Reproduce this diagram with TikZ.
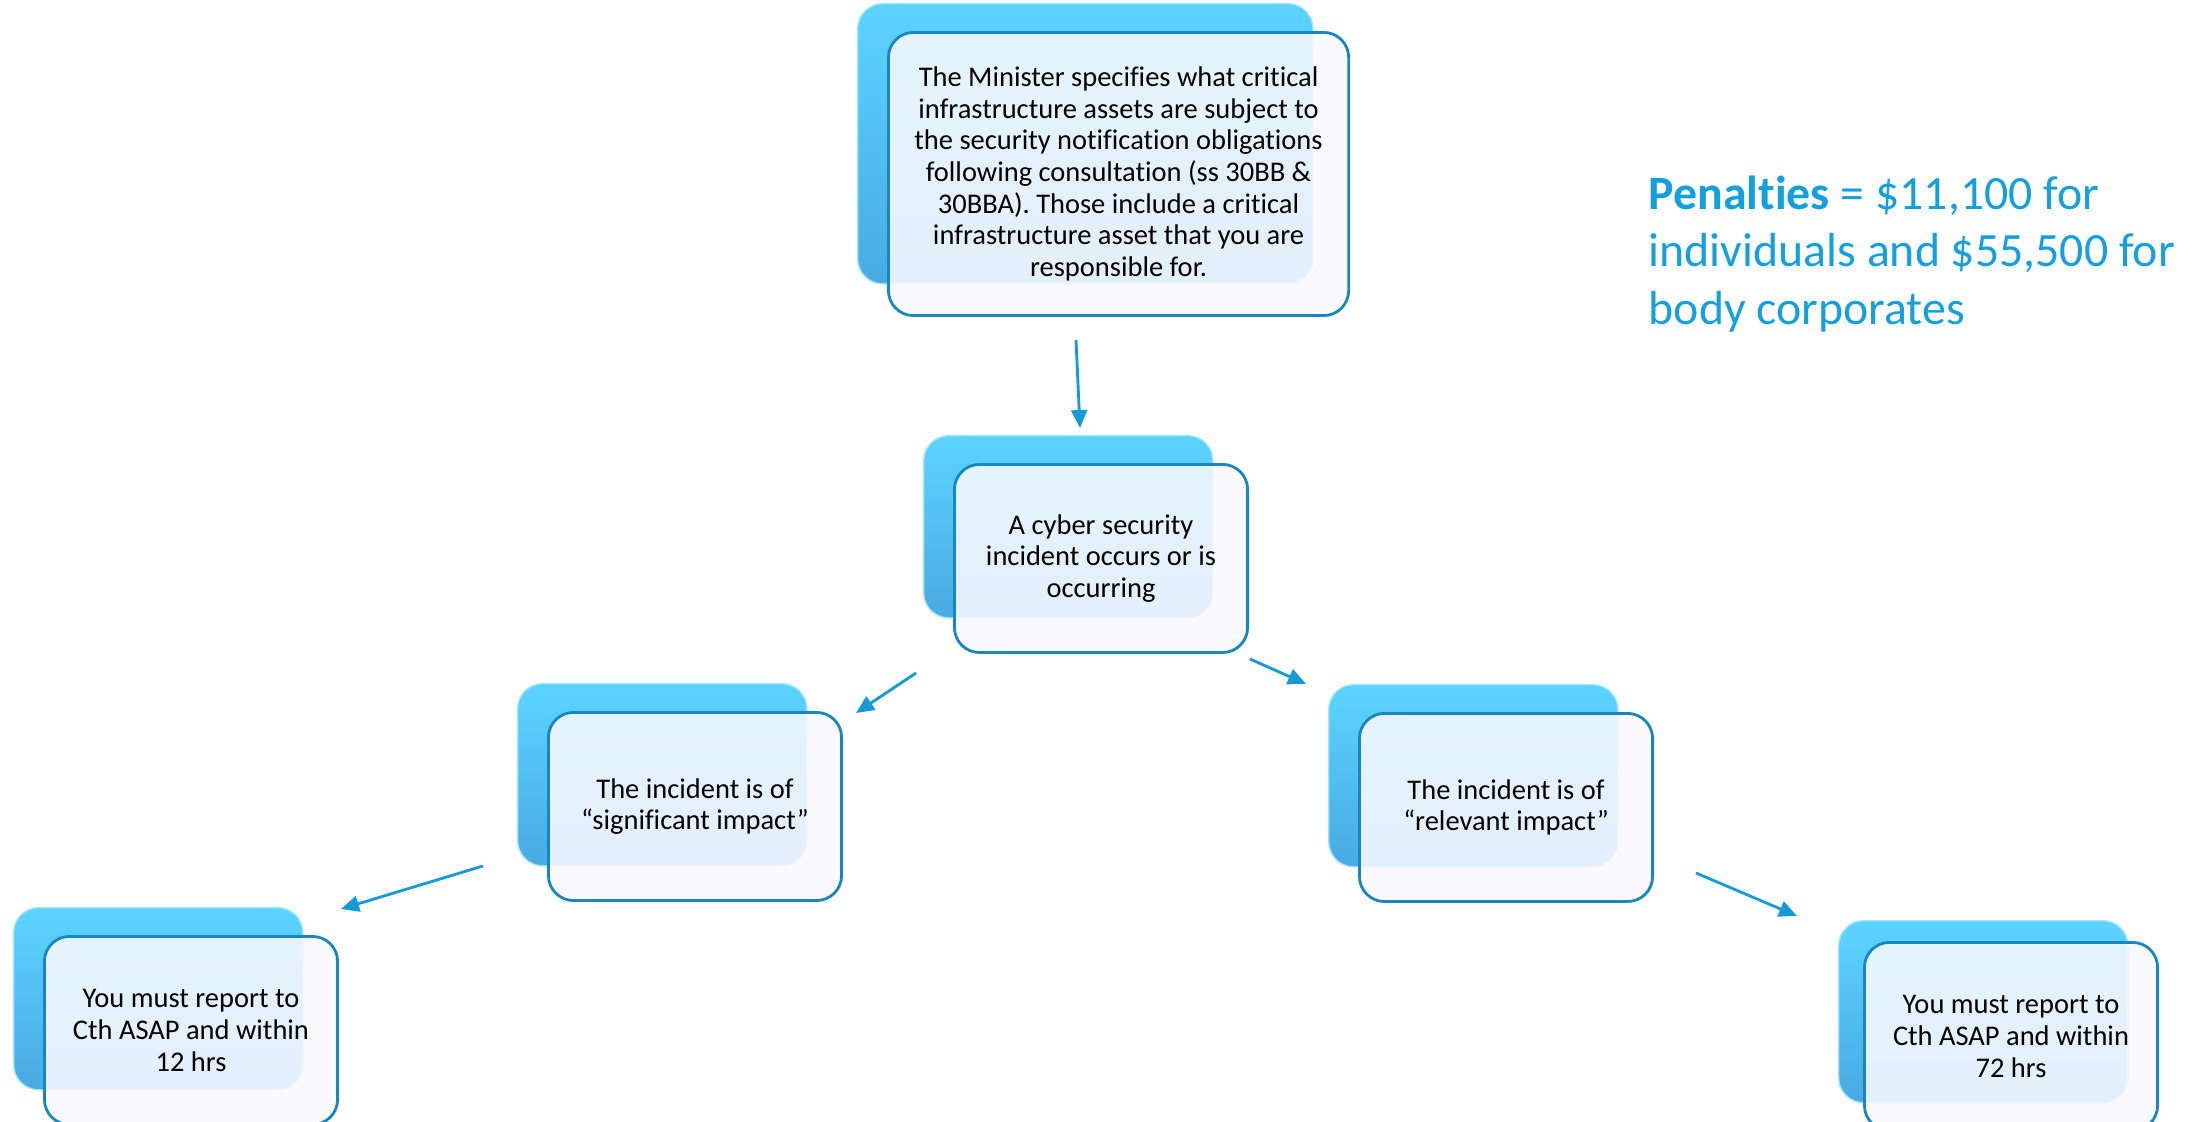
\documentclass[tikz,border=0pt]{standalone}
\usepackage{fontspec}
\setmainfont{Carlito}[Ligatures={NoCommon,NoContextual,NoRequired}, Contextuals={NoAlternate}]
\usetikzlibrary{positioning, arrows.meta}
\definecolor{arrowblue}{RGB}{20,155,214}
\definecolor{edgeblue}{RGB}{25,135,190}
\definecolor{backtop}{RGB}{92,212,255}
\definecolor{backbot}{RGB}{72,170,225}
\definecolor{frontfill}{RGB}{249,249,254}
\definecolor{penblue}{RGB}{20,160,220}

\begin{document}
\begin{tikzpicture}
		[
		x=0.01cm, y=-0.01cm,
		font=\fontsize{8.1}{9}\selectfont,
		back/.style ={rectangle, rounded corners=0.25cm, top color=backtop, bottom color=backbot, draw=backtop!60!white, line width=0.4pt, anchor=north west},
		front/.style ={rectangle, rounded corners=0.25cm, draw=edgeblue, line width=0.8pt, fill=frontfill, fill opacity=0.88, text opacity=1, align=center},
		small/.style ={minimum width=2.93cm, minimum height=1.88cm},
		smallback/.style ={minimum width=2.89cm, minimum height=1.82cm},
		arr/.style ={-{Triangle[length=0.18cm, width=0.16cm]}, draw=arrowblue, line width=0.8pt}
		]
		\useasboundingbox (0,0) rectangle (2203,1122);
		% back boxes
		\node (min0) [back, minimum width=4.55cm, minimum height=2.80cm] at (857,3) {};
		\node (inc0) [back, smallback] at (923,435) {};
		\node (sig0) [back, smallback] at (517,683) {};
		\node (rel0) [back, smallback] at (1328,684) {};
		\node (rep12b) [back, smallback] at (13,907) {};
		\node (rep72b) [back, smallback] at (1838,920) {};
		% front boxes
		\node[below right=0.28cm and 0.30cm of min0.north west] (min) [front, minimum width=4.60cm, minimum height=2.83cm] {The Minister specifies what critical\\ infrastructure assets are subject to\\ the security notification obligations\\ following consultation (ss 30BB \&\\ 30BBA). Those include a critical\\ infrastructure asset that you are\\ responsible for.};
		\node[below right=0.28cm and 0.30cm of inc0.north west] (inc) [front, small] {A cyber security\\ incident occurs or is\\ occurring};
		\node[below right=0.28cm and 0.30cm of sig0.north west] (sig) [front, small] {The incident is of\\ “significant impact”};
		\node[below right=0.28cm and 0.30cm of rel0.north west] (rel) [front, small] {The incident is of\\ “relevant impact”};
		\node[below right=0.28cm and 0.30cm of rep12b.north west] (rep12) [front, small] {You must report to\\ Cth ASAP and within\\ 12 hrs};
		\node[below right=0.21cm and 0.25cm of rep72b.north west] (rep72) [front, small] {You must report to\\ Cth ASAP and within\\ 72 hrs};
		% penalties
		\node[anchor=north west, align=left, inner sep=0pt, text=penblue, font=\fontsize{13.6}{16.4}\selectfont] (pen) at (1648,175) {\textbf{Penalties} = \$11,100 for\\ individuals and \$55,500 for\\ body corporates};
		% arrows
		\coordinate (a1) at (1076,340); \coordinate (b1) at (1080,428);
		\coordinate (a2) at (916,673);  \coordinate (b2) at (856,713);
		\coordinate (a3) at (1250,659); \coordinate (b3) at (1306,684);
		\coordinate (a4) at (483,866);  \coordinate (b4) at (341,909);
		\coordinate (a5) at (1696,873); \coordinate (b5) at (1797,916);
		\draw[arr] (a1) -- (b1);
		\draw[arr] (a2) -- (b2);
		\draw[arr] (a3) -- (b3);
		\draw[arr] (a4) -- (b4);
		\draw[arr] (a5) -- (b5);
	\end{tikzpicture}
\end{document}
